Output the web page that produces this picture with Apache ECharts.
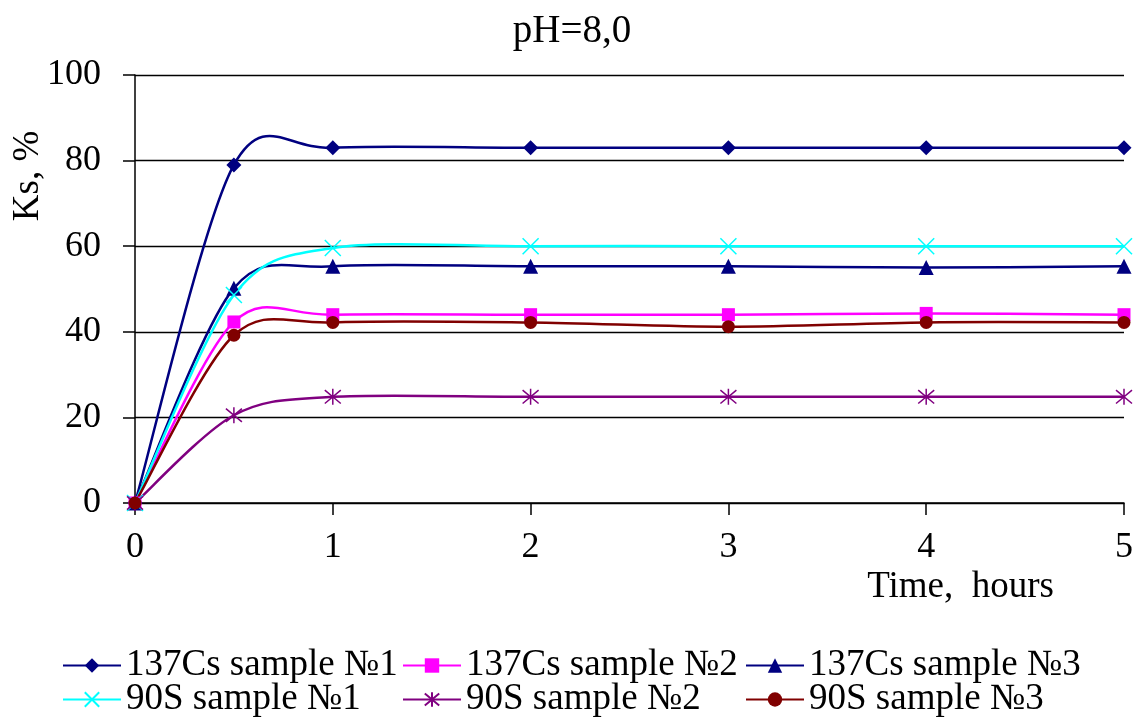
<!DOCTYPE html>
<html>
<head>
<meta charset="utf-8">
<script src="https://cdn.jsdelivr.net/npm/echarts@6/dist/echarts.min.js"></script>
<style>
  html, body { margin: 0; padding: 0; background: #fff; }
  #chart { width: 1140px; height: 722px; }
</style>
</head>
<body>
<div id="chart"></div>
<script>
// time points (hours)
const hours = [0, 0.5, 1, 2, 3, 4, 5];

// Ks, % per sample
const cs1 = [0, 79, 83, 83, 83, 83, 83];
const cs2 = [0, 42.3, 44, 44, 44, 44.3, 44];
const cs3 = [0, 50.2, 55.3, 55.3, 55.3, 55, 55.3];
const sr1 = [0, 48.6, 59.6, 60, 60, 60, 60];
const sr2 = [0, 20.5, 24.8, 24.8, 24.8, 24.8, 24.8];
const sr3 = [0, 39.2, 42.2, 42.2, 41.2, 42.2, 42.2];

const names = [
  '137Cs sample №1', '137Cs sample №2', '137Cs sample №3',
  '90S sample №1', '90S sample №2', '90S sample №3'
];

const FONT = 'Liberation Serif';
const crossPath = 'path://M0,0L10,10M10,0L0,10';
const starPath = 'path://M0,0L10,10M10,0L0,10M5,-1L5,11';

function pairs(ys) {
  return hours.map((h, i) => [h, ys[i]]);
}

// Excel-like smoothed curve: catmull-rom through the points, mapped by the axes
function curveSeries(ys, color) {
  return {
    type: 'custom',
    silent: true,
    z: 1,
    data: [[hours[0], ys[0]]],
    encode: { x: 0, y: 1 },
    renderItem: function (params, api) {
      const p = hours.map((h, i) => api.coord([h, ys[i]]));
      let d = 'M' + p[0][0] + ',' + p[0][1];
      for (let i = 0; i < p.length - 1; i++) {
        const a = p[Math.max(i - 1, 0)];
        const b = p[i];
        const c = p[i + 1];
        const e = p[Math.min(i + 2, p.length - 1)];
        const k = 6.5;
        const c1x = b[0] + (c[0] - a[0]) / k;
        const c1y = b[1] + (c[1] - a[1]) / k;
        const c2x = c[0] - (e[0] - b[0]) / k;
        const c2y = c[1] - (e[1] - b[1]) / k;
        d += 'C' + c1x + ',' + c1y + ',' + c2x + ',' + c2y + ',' + c[0] + ',' + c[1];
      }
      return {
        type: 'path',
        shape: { pathData: d },
        style: { stroke: color, fill: 'none', lineWidth: 2.5 }
      };
    }
  };
}

function markerSeries(name, ys, color, symbol, size, stroked) {
  return {
    name: name,
    type: 'line',
    z: 3,
    data: pairs(ys),
    symbol: symbol,
    symbolSize: size,
    showAllSymbol: true,
    lineStyle: { color: color, width: 2.5, opacity: 0 },
    itemStyle: stroked
      ? { color: 'rgba(0,0,0,0)', borderColor: color, borderWidth: 1.5 }
      : { color: color, borderWidth: 0 },
    emphasis: { disabled: true }
  };
}

const colors = ['#000080', '#FF00FF', '#000080', '#00FFFF', '#800080', '#800000'];
const allY = [cs1, cs2, cs3, sr1, sr2, sr3];
const symbols = ['diamond', 'rect', 'triangle', crossPath, starPath, 'circle'];
const sizes = [15, 13, 15, 16, 16, 13];
const stroked = [false, false, false, true, true, false];

const series = [];
allY.forEach((ys, i) => {
  series.push(curveSeries(ys, colors[i]));
  series.push(markerSeries(names[i], ys, colors[i], symbols[i], sizes[i], stroked[i]));
});

const legendCols = [62, 402, 745];
const legendRows = [647, 681];
const legends = names.map((n, i) => ({
  data: [n],
  left: legendCols[i % 3],
  top: legendRows[Math.floor(i / 3)],
  itemWidth: 58,
  itemHeight: 18,
  padding: 0,
  selectedMode: false,
  lineStyle: { opacity: 1 },
  textStyle: { fontFamily: FONT, fontSize: 37, color: '#000' }
}));

const chart = echarts.init(document.getElementById('chart'));
chart.setOption({
  animation: false,
  backgroundColor: '#fff',
  title: {
    text: 'pH=8,0',
    left: 567,
    textAlign: 'center',
    top: 7,
    textStyle: { fontFamily: FONT, fontSize: 39, fontWeight: 'normal', color: '#000' }
  },
  legend: legends,
  grid: { left: 135, right: 16, top: 75, bottom: 219 },
  xAxis: {
    type: 'value',
    min: 0,
    max: 5,
    interval: 1,
    axisLine: { lineStyle: { color: '#000', width: 1.5 } },
    axisTick: { show: true, length: 12, lineStyle: { color: '#000', width: 1.5 } },
    axisLabel: { fontFamily: FONT, fontSize: 36, color: '#000', margin: 27 },
    splitLine: { show: false }
  },
  yAxis: {
    type: 'value',
    min: 0,
    max: 100,
    interval: 20,
    axisLine: { show: true, lineStyle: { color: '#000', width: 1.5 } },
    axisTick: { show: true, length: 12, lineStyle: { color: '#000', width: 1.5 } },
    axisLabel: { fontFamily: FONT, fontSize: 36, color: '#000', margin: 34 },
    splitLine: { show: true, lineStyle: { color: '#000', width: 1.3 } }
  },
  graphic: [
    {
      type: 'text',
      x: 28,
      y: 176,
      rotation: Math.PI / 2,
      style: {
        text: 'Ks, %',
        fontFamily: FONT,
        fontSize: 37,
        fill: '#000',
        align: 'center',
        verticalAlign: 'middle'
      }
    },
    {
      type: 'text',
      x: 1054,
      y: 587,
      style: {
        text: 'Time,  hours',
        fontFamily: FONT,
        fontSize: 37,
        fill: '#000',
        align: 'right',
        verticalAlign: 'middle'
      }
    }
  ],
  series: series
});
</script>
</body>
</html>
